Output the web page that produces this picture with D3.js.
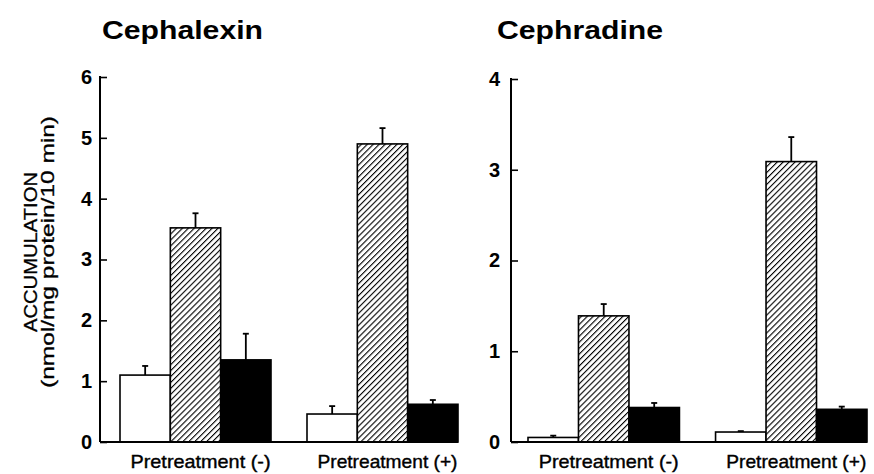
<!DOCTYPE html>
<html>
<head>
<meta charset="utf-8">
<script src="https://cdn.jsdelivr.net/npm/d3@7"></script>
<style>
  body { margin: 0; background: #fff; }
  text { font-family: "Liberation Sans", Arial, sans-serif; fill: #000; }
</style>
</head>
<body>
<script>
// data
var groups = ["Pretreatment (-)", "Pretreatment (+)"];
var keys = ["open", "hatched", "filled"];

var cephalexinMean = [[1.10, 3.52, 1.35], [0.46, 4.90, 0.62]];
var cephalexinErr  = [[0.15, 0.24, 0.43], [0.13, 0.26, 0.07]];
var cephradineMean = [[0.05, 1.39, 0.38], [0.11, 3.09, 0.36]];
var cephradineErr  = [[0.02, 0.13, 0.05], [0.01, 0.27, 0.03]];

var cephalexinTicks = [0, 1, 2, 3, 4, 5, 6];
var cephradineTicks = [0, 1, 2, 3, 4];

var width = 874,
    height = 474;

var svg = d3.select("body").append("svg")
    .attr("width", width)
    .attr("height", height)
    .style("display", "block");

// diagonal hatch
var defs = svg.append("defs");
defs.append("pattern")
    .attr("id", "hatch")
    .attr("patternUnits", "userSpaceOnUse")
    .attr("width", 4.2)
    .attr("height", 4.2)
    .attr("patternTransform", "rotate(45)")
  .call(function(p) {
    p.append("rect").attr("width", 4.2).attr("height", 4.2).attr("fill", "#fff");
    p.append("line")
      .attr("x1", 0).attr("y1", 0).attr("x2", 0).attr("y2", 4.2)
      .attr("stroke", "#000").attr("stroke-width", 2.2);
  });

var fills = { open: "#fff", hatched: "url(#hatch)", filled: "#000" };

function panel(opt) {
  var g = svg.append("g");

  var y = d3.scaleLinear()
      .domain([0, opt.ticks[opt.ticks.length - 1]])
      .range([442, opt.top]);

  var x0 = d3.scaleBand()
      .domain(groups)
      .range(opt.groupRange)
      .paddingInner(0.1925)
      .paddingOuter(0);

  var x1 = d3.scaleBand()
      .domain(keys)
      .range([0, x0.bandwidth()]);

  // title
  g.append("text")
      .attr("x", opt.titleX)
      .attr("y", 39)
      .attr("font-size", 26)
      .attr("font-weight", "bold")
      .attr("textLength", opt.titleLen)
      .attr("lengthAdjust", "spacingAndGlyphs")
      .text(opt.title);

  var rows = [];
  groups.forEach(function(grp, i) {
    keys.forEach(function(k, j) {
      rows.push({ group: grp, key: k, v: opt.mean[i][j], e: opt.err[i][j] });
    });
  });

  g.selectAll("rect.bar")
    .data(rows)
    .enter().append("rect")
      .attr("class", "bar")
      .attr("x", function(d) { return x0(d.group) + x1(d.key); })
      .attr("y", function(d) { return y(d.v); })
      .attr("width", x1.bandwidth())
      .attr("height", function(d) { return y(0) - y(d.v); })
      .attr("fill", function(d) { return fills[d.key]; })
      .attr("stroke", "#000")
      .attr("stroke-width", 1.6);

  // upper error bars only
  var eb = g.selectAll("g.err")
    .data(rows)
    .enter().append("g")
      .attr("class", "err")
      .attr("transform", function(d) {
        return "translate(" + (x0(d.group) + x1(d.key) + x1.bandwidth() / 2) + ",0)";
      });
  eb.append("line")
      .attr("y1", function(d) { return y(d.v); })
      .attr("y2", function(d) { return y(d.v + d.e); })
      .attr("stroke", "#000")
      .attr("stroke-width", 1.8);
  eb.append("line")
      .attr("x1", -3).attr("x2", 3)
      .attr("y1", function(d) { return y(d.v + d.e); })
      .attr("y2", function(d) { return y(d.v + d.e); })
      .attr("stroke", "#000")
      .attr("stroke-width", 1.8);

  // y axis, ticks pointing inward
  var yAxis = d3.axisRight(y)
      .tickValues(opt.ticks)
      .tickSize(7)
      .tickFormat(d3.format("d"));
  var ya = g.append("g")
      .attr("transform", "translate(" + opt.axisX + ",0)")
      .call(yAxis)
      .attr("font-size", null)
      .attr("font-family", null);
  ya.select(".domain").remove();
  ya.selectAll(".tick line").attr("stroke-width", 1.6);
  ya.selectAll(".tick text")
      .attr("x", -opt.labelGap)
      .attr("text-anchor", "end")
      .style("font-size", "20px")
      .style("font-weight", "bold");

  g.append("line")
      .attr("x1", opt.axisX).attr("x2", opt.axisX)
      .attr("y1", y(0)).attr("y2", y.range()[1] - 1)
      .attr("stroke", "#000").attr("stroke-width", 2);
  g.append("line")
      .attr("x1", opt.axisX).attr("x2", opt.groupRange[1])
      .attr("y1", y(0)).attr("y2", y(0))
      .attr("stroke", "#000").attr("stroke-width", 2);

  // group labels
  g.selectAll("text.grp")
    .data(groups)
    .enter().append("text")
      .attr("class", "grp")
      .attr("x", function(d) { return x0(d) + x0.bandwidth() / 2 + 5; })
      .attr("y", 468)
      .attr("text-anchor", "middle")
      .attr("font-size", 19)
      .attr("stroke", "#000")
      .attr("stroke-width", 0.4)
      .attr("textLength", 140)
      .attr("lengthAdjust", "spacingAndGlyphs")
      .text(function(d) { return d; });
}

panel({
  title: "Cephalexin", titleX: 102, titleLen: 161,
  mean: cephalexinMean, err: cephalexinErr, ticks: cephalexinTicks,
  top: 77, axisX: 100, groupRange: [120, 458], labelGap: 8
});

panel({
  title: "Cephradine", titleX: 497, titleLen: 166,
  mean: cephradineMean, err: cephradineErr, ticks: cephradineTicks,
  top: 79, axisX: 511, groupRange: [528, 867], labelGap: 11
});

// y axis title
var yl = svg.append("g")
    .attr("transform", "translate(0,252) rotate(-90)");
yl.append("text")
    .attr("x", 0).attr("y", 37)
    .attr("text-anchor", "middle")
    .attr("font-size", 18)
    .attr("stroke", "#000")
    .attr("stroke-width", 0.3)
    .attr("textLength", 160)
    .attr("lengthAdjust", "spacingAndGlyphs")
    .text("ACCUMULATION");
yl.append("text")
    .attr("x", 0).attr("y", 54)
    .attr("text-anchor", "middle")
    .attr("font-size", 18)
    .attr("stroke", "#000")
    .attr("stroke-width", 0.3)
    .attr("textLength", 272)
    .attr("lengthAdjust", "spacingAndGlyphs")
    .text("(nmol/mg protein/10 min)");
</script>
</body>
</html>
